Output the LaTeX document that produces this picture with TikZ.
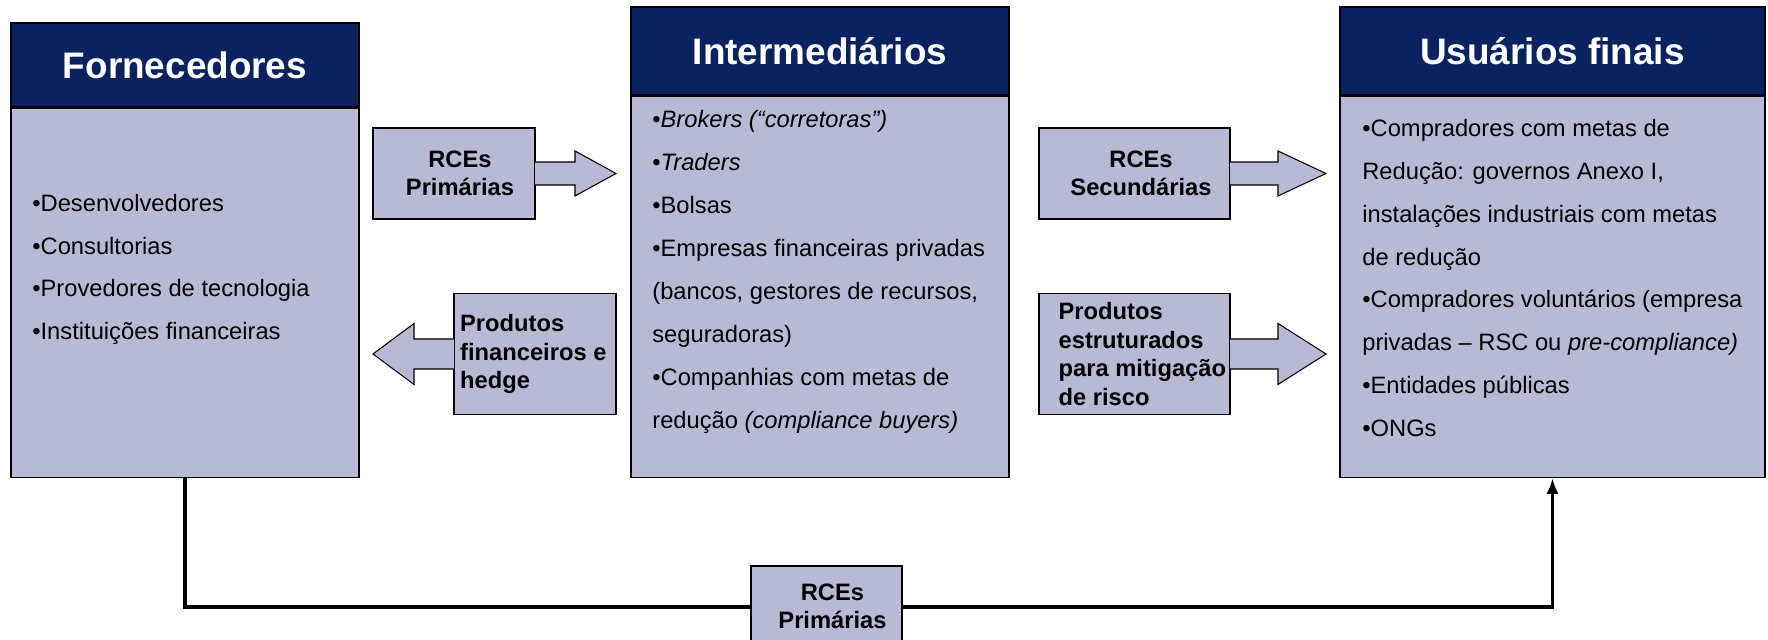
\documentclass[tikz,border=0pt]{standalone}
\usepackage{fontspec}
\setmainfont{Liberation Sans}
\usetikzlibrary{arrows.meta}
\definecolor{headblue}{RGB}{11,34,96}
\definecolor{bodyblue}{RGB}{183,185,213}

\tikzset{
  head/.style={draw=black, line width=0.8pt, fill=headblue, text=white, inner sep=0pt,
    font=\fontsize{21}{25}\selectfont\bfseries},
  body/.style={draw=black, line width=0.8pt, fill=bodyblue, inner sep=0pt},
  item/.style={anchor=base west, inner sep=0pt, font=\fontsize{13.5}{16}\selectfont},
  tagbox/.style={draw=black, line width=0.8pt, fill=bodyblue, inner sep=0pt},
  taglabel/.style={inner sep=0pt, font=\fontsize{13.5}{16.2}\selectfont\bfseries},
  blockarrow/.style={draw=black, line width=0.6pt, fill=bodyblue},
  flow/.style={line width=2.2pt, -{Latex[length=9pt,width=7pt]}}
}

\begin{document}
\begin{tikzpicture}
\useasboundingbox (0,0) rectangle (35.36,12.8);
% Main boxes
\node[head, minimum width=6.96cm, minimum height=1.68cm] (forn) at (3.7, 11.5) {Fornecedores};
\node[body, minimum width=6.96cm, minimum height=7.38cm, anchor=north] (fornbody) at (forn.south) {};

\node[head, minimum width=7.56cm, minimum height=1.76cm] (interm) at (16.4, 11.78) {Intermediários};
\node[body, minimum width=7.56cm, minimum height=7.62cm, anchor=north] (intermbody) at (interm.south) {};

\node[head, minimum width=8.5cm, minimum height=1.76cm] (user) at (31.05, 11.78) {Usuários finais};
\node[body, minimum width=8.5cm, minimum height=7.62cm, anchor=north] (userbody) at (user.south) {};

% Lists
\foreach \txt [count=\i] in {{•Desenvolvedores}, {•Consultorias}, {•Provedores de tecnologia}, {•Instituições financeiras}}
  \node[item] (fornitem\i) at (0.64, {8.57-0.855*(\i-1)}) {\txt};

\foreach \txt [count=\i] in {{•\textit{Brokers (“corretoras”)}}, {•\textit{Traders}}, {•Bolsas}, {•Empresas financeiras privadas}, {(bancos, gestores de recursos,}, {seguradoras)}, {•Companhias com metas de}, {redução \textit{(compliance buyers)}}}
  \node[item] (intermitem\i) at (13.04, {10.25-0.86*(\i-1)}) {\txt};

\foreach \txt [count=\i] in {{•Compradores com metas de}, {Redução: governos Anexo I,}, {instalações industriais com metas}, {de redução}, {•Compradores voluntários (empresa}, {privadas – RSC ou \textit{pre-compliance)}}, {•Entidades públicas}, {•ONGs}}
  \node[item] (useritem\i) at (27.24, {10.07-0.857*(\i-1)}) {\txt};

% Arrow boxes
\node[tagbox, minimum width=3.24cm, minimum height=1.82cm] (rcep) at (9.08, 9.33) {};
\node[tagbox, minimum width=3.24cm, minimum height=2.42cm] (prodfin) at (10.7, 5.72) {};
\node[tagbox, minimum width=3.82cm, minimum height=1.82cm] (rces) at (22.69, 9.33) {};
\node[tagbox, minimum width=3.82cm, minimum height=2.42cm] (prodestr) at (22.69, 5.72) {};

% Arrows
\draw[blockarrow] ([xshift=-0.4pt, yshift=0.23cm]rcep.east) -- ++(0.8,0) -- ++(0,0.22)
  -- ++(0.82,-0.45) -- ++(-0.82,-0.45) -- ++(0,0.22) -- ([xshift=-0.4pt, yshift=-0.23cm]rcep.east);
\draw[blockarrow] ([xshift=0.4pt, yshift=0.3cm]prodfin.west) -- ++(-0.8,0) -- ++(0,0.31)
  -- ++(-0.82,-0.61) -- ++(0.82,-0.61) -- ++(0,0.31) -- ([xshift=0.4pt, yshift=-0.3cm]prodfin.west);
\draw[blockarrow] ([xshift=-0.4pt, yshift=0.23cm]rces.east) -- ++(0.96,0) -- ++(0,0.22)
  -- ++(0.96,-0.45) -- ++(-0.96,-0.45) -- ++(0,0.22) -- ([xshift=-0.4pt, yshift=-0.23cm]rces.east);
\draw[blockarrow] ([xshift=-0.4pt, yshift=0.3cm]prodestr.east) -- ++(0.96,0) -- ++(0,0.31)
  -- ++(0.96,-0.61) -- ++(-0.96,-0.61) -- ++(0,0.31) -- ([xshift=-0.4pt, yshift=-0.3cm]prodestr.east);

\draw[flow] (fornbody.south) -- ++(0,-2.58) -| (userbody.south);
\node[tagbox, minimum width=3.02cm, minimum height=1.62cm] (rcepbottom) at (16.53, 0.67) {};

% Labels
\node[taglabel, align=center] (rceplabel) at ([xshift=0.12cm]rcep.center) {RCEs\\Primárias};
\node[taglabel, align=left, anchor=west] (prodfinlabel) at ([xshift=0.13cm]prodfin.west) {Produtos\\financeiros e\\hedge};
\node[taglabel, align=center] (rceslabel) at ([xshift=0.13cm]rces.center) {RCEs\\Secundárias};
\node[taglabel, align=left, anchor=west] (prodestrlabel) at ([xshift=0.4cm]prodestr.west) {Produtos\\estruturados\\para mitigação\\de risco};
\node[taglabel, align=center] (rcepbottomlabel) at ([xshift=0.12cm]rcepbottom.center) {RCEs\\Primárias};

\end{tikzpicture}
\end{document}
